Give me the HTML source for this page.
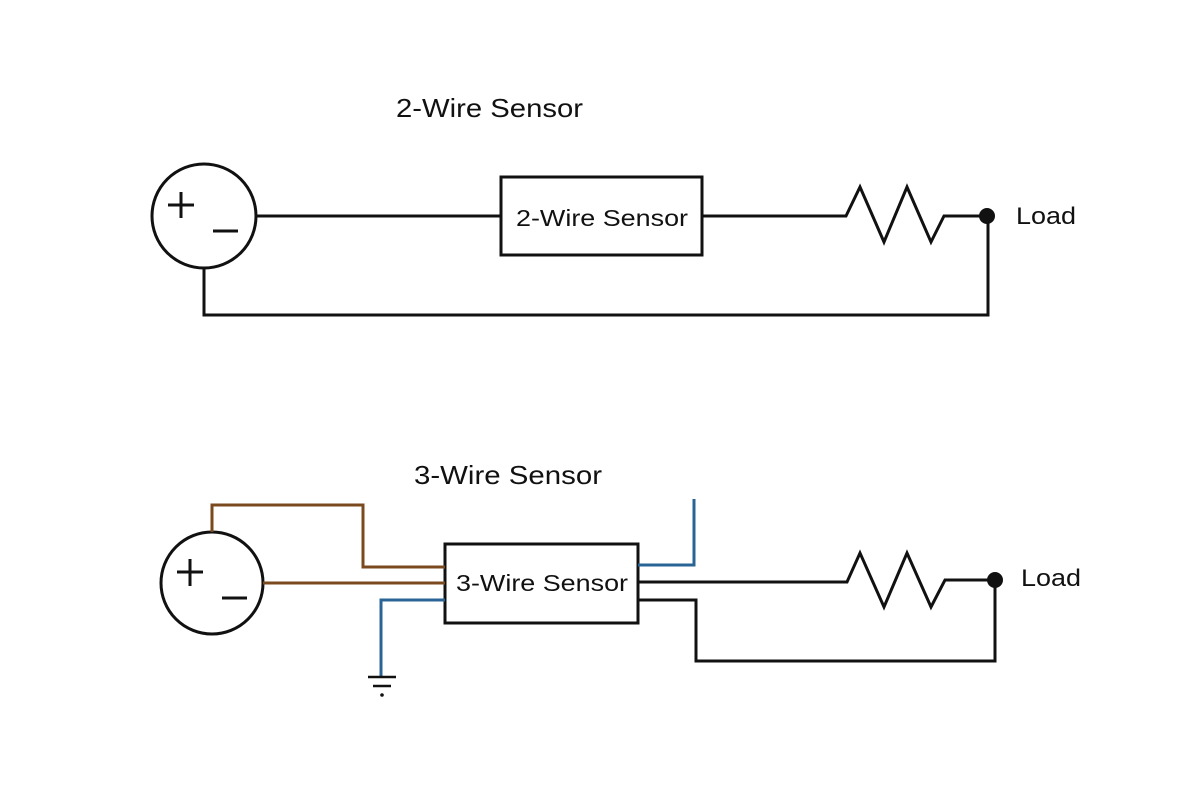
<!DOCTYPE html>
<html><head><meta charset="utf-8"><style>html,body{margin:0;padding:0;background:#fff}svg{display:block}</style></head>
<body>
<svg width="1200" height="800" viewBox="0 0 1200 800" xmlns="http://www.w3.org/2000/svg" font-family="Liberation Sans, sans-serif" fill="none">
<g stroke="#111" stroke-width="3">
<!-- top circuit -->
<circle cx="204" cy="216" r="52"/>
<line x1="168" y1="205" x2="194" y2="205"/><line x1="181" y1="192" x2="181" y2="218"/>
<line x1="213" y1="231" x2="238" y2="231"/>
<line x1="256" y1="216" x2="501" y2="216"/>
<rect x="501" y="177" width="201" height="78"/>
<polyline points="702,216 846,216 860,187 884,242 907,187 931,242 944,216 987,216"/>
<polyline points="204,268 204,315 988,315 988,216"/>
<!-- bottom circuit -->
<circle cx="212" cy="583" r="51"/>
<line x1="177" y1="572" x2="203" y2="572"/><line x1="190" y1="559" x2="190" y2="586"/>
<line x1="222" y1="598" x2="247" y2="598"/>
<rect x="445" y="544" width="193" height="79"/>
<polyline points="638,582 847,582 860,553 884,607 907,553 931,607 945,580 995,580"/>
<polyline points="638,600 696,600 696,661 995,661 995,580"/>
</g>
<g stroke="#7a4a1e" stroke-width="3">
<polyline points="212,532 212,505 363,505 363,567 445,567"/>
<line x1="263" y1="583" x2="445" y2="583"/>
</g>
<g stroke="#2a6496" stroke-width="3">
<polyline points="445,600 381,600 381,677"/>
<polyline points="638,565 694,565 694,499"/>
</g>
<g stroke="#111" stroke-width="2.5">
<line x1="368" y1="677" x2="396" y2="677"/>
<line x1="373" y1="686" x2="391" y2="686"/>
</g>
<circle cx="382" cy="695" r="1.8" fill="#111"/>
<circle cx="987" cy="216" r="8" fill="#111"/>
<circle cx="995" cy="580" r="8" fill="#111"/>
<g fill="#111">
<text x="396" y="117" font-size="26" textLength="187" lengthAdjust="spacingAndGlyphs">2-Wire Sensor</text>
<text x="516" y="226" font-size="23" textLength="172" lengthAdjust="spacingAndGlyphs">2-Wire Sensor</text>
<text x="1016" y="224" font-size="24" textLength="60" lengthAdjust="spacingAndGlyphs">Load</text>
<text x="414" y="484" font-size="26" textLength="188" lengthAdjust="spacingAndGlyphs">3-Wire Sensor</text>
<text x="456" y="591" font-size="23" textLength="172" lengthAdjust="spacingAndGlyphs">3-Wire Sensor</text>
<text x="1021" y="586" font-size="24" textLength="60" lengthAdjust="spacingAndGlyphs">Load</text>
</g>
</svg>
</body></html>
